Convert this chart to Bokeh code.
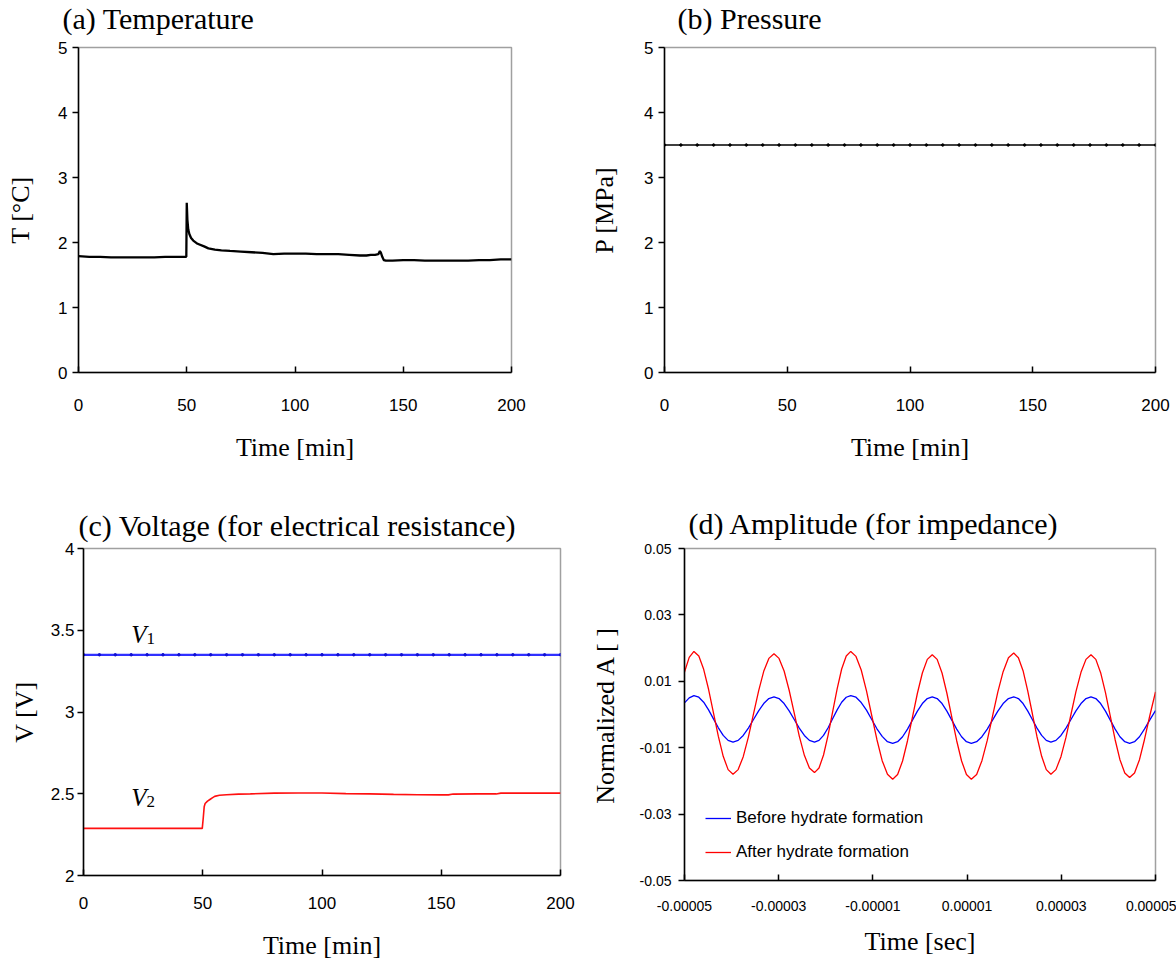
from bokeh.plotting import figure
from bokeh.models import Range1d, FixedTicker, PrintfTickFormatter, CustomJSTickFormatter, Label, Legend, LegendItem
from bokeh.layouts import row, column
from bokeh.embed import file_html
from bokeh.resources import INLINE

# ---------------- data ----------------
# (a) temperature [degC] vs time [min]
temp_time = [0, 5, 10, 15, 20, 25, 30, 35, 40, 45, 49.8, 50.0, 50.3, 50.7, 51.2, 52, 53, 55, 58, 60, 63, 66,
             70, 75, 80, 85, 90, 95, 100, 105, 110, 115, 120, 125, 130, 133, 135, 137, 138.5, 139.2, 139.7,
             140.3, 141, 142, 145, 150, 155, 160, 165, 170, 175, 180, 185, 190, 195, 200]
temp_val = [1.79, 1.78, 1.78, 1.77, 1.77, 1.77, 1.77, 1.77, 1.78, 1.78, 1.78, 2.61, 2.35, 2.2, 2.13, 2.07, 2.03,
            1.98, 1.94, 1.91, 1.89, 1.88, 1.87, 1.86, 1.85, 1.84, 1.82, 1.83, 1.83, 1.83, 1.82, 1.82, 1.82,
            1.81, 1.80, 1.80, 1.81, 1.81, 1.82, 1.87, 1.84, 1.78, 1.73, 1.72, 1.72, 1.73, 1.73, 1.72, 1.72,
            1.72, 1.72, 1.72, 1.73, 1.73, 1.74, 1.74]

# sampling instants of the logged points (min)
sample_time = [0, 6.67, 13.33, 20, 26.67, 33.33, 40, 46.67, 53.33, 60, 66.67, 73.33, 80, 86.67, 93.33, 100,
               106.67, 113.33, 120, 126.67, 133.33, 140, 146.67, 153.33, 160, 166.67, 173.33, 180, 186.67,
               193.33, 200]
# (b) pressure [MPa]
pressure_val = [3.5] * len(sample_time)

# (c) voltages [V]
v1_val = [3.35] * len(sample_time)
v2_time = [0, 10, 20, 30, 40, 49.8, 50.2, 50.6, 51, 52, 53, 54, 55, 57, 60, 65, 70, 80, 90, 100, 110, 120,
           130, 140, 150, 153, 155, 165, 173, 175, 185, 200]
v2_val = [2.288, 2.288, 2.288, 2.288, 2.288, 2.288, 2.35, 2.42, 2.44, 2.455, 2.465, 2.475, 2.484, 2.491,
          2.494, 2.498, 2.499, 2.504, 2.505, 2.505, 2.501, 2.499, 2.496, 2.494, 2.493, 2.493, 2.498, 2.499,
          2.499, 2.504, 2.504, 2.504]

# (d) normalized amplitude vs time [microsecond]
amp_time_us = [
    -50, -49, -48.0,
    -46.96, -45.93, -44.89, -43.85, -42.81, -41.78, -40.74, -39.7,
    -38.61, -37.53, -36.44, -35.35, -34.26, -33.18, -32.09, -31.0,
    -29.93, -28.85, -27.78, -26.70, -25.63, -24.55, -23.48, -22.4,
    -21.44, -20.48, -19.51, -18.55, -17.59, -16.63, -15.66, -14.7,
    -13.59, -12.48, -11.36, -10.25, -9.14, -8.03, -6.91, -5.8,
    -4.75, -3.70, -2.65, -1.60, -0.55, 0.50, 1.55, 2.6,
    3.64, 4.68, 5.71, 6.75, 7.79, 8.83, 9.86, 10.9,
    12.03, 13.15, 14.28, 15.40, 16.53, 17.65, 18.78, 19.9,
    20.89, 21.88, 22.86, 23.85, 24.84, 25.83, 26.81, 27.8,
    28.86, 29.93, 30.99, 32.05, 33.11, 34.18, 35.24, 36.3,
    37.33, 38.35, 39.38, 40.40, 41.43, 42.45, 43.48, 44.5,
    45.55, 46.6, 47.65, 48.8, 50]
before_val = [
    0.0035, 0.0050, 0.0057,
    0.0052, 0.0037, 0.0014, -0.0013, -0.0040, -0.0063, -0.0078, -0.0083,
    -0.0078, -0.0063, -0.0041, -0.0015, 0.0011, 0.0033, 0.0048, 0.0053,
    0.0048, 0.0033, 0.0011, -0.0015, -0.0041, -0.0063, -0.0078, -0.0083,
    -0.0078, -0.0063, -0.0040, -0.0013, 0.0014, 0.0037, 0.0052, 0.0057,
    0.0052, 0.0036, 0.0013, -0.0015, -0.0043, -0.0066, -0.0082, -0.0087,
    -0.0082, -0.0067, -0.0044, -0.0017, 0.0010, 0.0033, 0.0048, 0.0053,
    0.0048, 0.0033, 0.0010, -0.0017, -0.0044, -0.0067, -0.0082, -0.0087,
    -0.0082, -0.0067, -0.0044, -0.0017, 0.0010, 0.0033, 0.0048, 0.0053,
    0.0048, 0.0033, 0.0011, -0.0015, -0.0041, -0.0063, -0.0078, -0.0083,
    -0.0078, -0.0063, -0.0041, -0.0015, 0.0011, 0.0033, 0.0048, 0.0053,
    0.0048, 0.0033, 0.0010, -0.0017, -0.0044, -0.0067, -0.0082, -0.0087,
    -0.0082, -0.0067, -0.0044, -0.0016, 0.0012]
after_val = [
    0.0128, 0.0172, 0.0190,
    0.0176, 0.0136, 0.0076, 0.0005, -0.0066, -0.0126, -0.0166, -0.0180,
    -0.0166, -0.0127, -0.0068, 0.0002, 0.0071, 0.0130, 0.0169, 0.0183,
    0.0169, 0.0131, 0.0073, 0.0004, -0.0065, -0.0123, -0.0161, -0.0175,
    -0.0161, -0.0122, -0.0062, 0.0008, 0.0077, 0.0137, 0.0176, 0.0190,
    0.0175, 0.0134, 0.0071, -0.0003, -0.0076, -0.0139, -0.0180, -0.0195,
    -0.0181, -0.0140, -0.0079, -0.0008, 0.0064, 0.0125, 0.0166, 0.0180,
    0.0166, 0.0125, 0.0064, -0.0008, -0.0079, -0.0140, -0.0181, -0.0195,
    -0.0181, -0.0139, -0.0078, -0.0005, 0.0068, 0.0129, 0.0171, 0.0185,
    0.0171, 0.0132, 0.0072, 0.0003, -0.0067, -0.0126, -0.0166, -0.0180,
    -0.0166, -0.0127, -0.0069, 0.0000, 0.0069, 0.0127, 0.0166, 0.0180,
    0.0166, 0.0126, 0.0066, -0.0005, -0.0076, -0.0136, -0.0176, -0.0190,
    -0.0176, -0.0136, -0.0076, -0.0003, 0.0068]
amp_time_s = [t * 1e-6 for t in amp_time_us]

min_ticks = [0, 50, 100, 150, 200]

SERIF = "Liberation Serif"
SANS = "Liberation Sans"


def make_fig(w, h, bl, br, bt, bb, xr, yr, title, x_off, standoff, xlabel, ylabel, tick_px="17px"):
    p = figure(width=w, height=h, x_range=Range1d(*xr), y_range=Range1d(*yr),
               output_backend="svg", toolbar_location=None,
               min_border_left=bl, min_border_right=br, min_border_top=bt, min_border_bottom=bb)
    try:
        p.frame_align = False
    except Exception:
        pass
    p.grid.visible = False
    p.outline_line_color = "#a0a0a0"
    p.outline_line_width = 1.5
    if title:
        p.title.text = title
        p.title.text_font = SERIF
        p.title.text_font_size = "30px"
        p.title.text_font_style = "normal"
        p.title.text_color = "black"
        p.title.align = "left"
        p.title.offset = x_off
        p.title.standoff = standoff
    for ax in (p.xaxis[0], p.yaxis[0]):
        ax.axis_line_color = "black"
        ax.axis_line_width = 1.5
        ax.major_tick_line_color = "black"
        ax.major_tick_line_width = 1.5
        ax.minor_tick_line_color = None
        ax.major_label_text_font = SANS
        ax.major_label_text_font_size = tick_px
        ax.major_label_text_color = "black"
        ax.axis_label_text_font = SERIF
        ax.axis_label_text_font_size = "26px"
        ax.axis_label_text_font_style = "normal"
        ax.axis_label_text_color = "black"
    p.xaxis.axis_label = xlabel
    p.yaxis.axis_label = ylabel
    p.xaxis.major_tick_in = 6
    p.xaxis.major_tick_out = 0
    p.yaxis.major_tick_in = 0
    p.yaxis.major_tick_out = 6
    return p


# heading strip for the upper panels (pixel coordinates: x to the right, y up)
TOP_H = 40
ph = figure(width=1176, height=TOP_H, x_range=Range1d(0, 1176), y_range=Range1d(0, TOP_H),
            output_backend="svg", toolbar_location=None,
            min_border_left=0, min_border_right=0, min_border_top=0, min_border_bottom=0,
            x_axis_location=None, y_axis_location=None)
try:
    ph.frame_align = False
except Exception:
    pass
ph.grid.visible = False
ph.outline_line_color = None
for txt, xx in (("(a) Temperature", 62), ("(b) Pressure", 677)):
    ph.add_layout(Label(x=xx, y=22, text=txt, text_font=SERIF, text_font_size="30px",
                        text_color="black", text_baseline="alphabetic", text_align="left"))

# (a)
pa = make_fig(586, 476 - TOP_H, 78, 75, 47 - TOP_H, 104, (0, 200), (0, 5), None, 0, 0, "Time [min]", "T [°C]")
pa.xaxis.ticker = FixedTicker(ticks=min_ticks)
pa.yaxis.ticker = FixedTicker(ticks=[0, 1, 2, 3, 4, 5])
pa.xaxis.major_label_standoff = 26
pa.xaxis.axis_label_standoff = 19
pa.yaxis.major_label_standoff = 5
pa.yaxis.axis_label_standoff = 20
pa.line(temp_time, temp_val, line_color="black", line_width=2.3)

# (b)
pb = make_fig(590, 476 - TOP_H, 78, 21, 47 - TOP_H, 104, (0, 200), (0, 5), None, 0, 0, "Time [min]", "P [MPa]")
pb.xaxis.ticker = FixedTicker(ticks=min_ticks)
pb.yaxis.ticker = FixedTicker(ticks=[0, 1, 2, 3, 4, 5])
pb.xaxis.major_label_standoff = 26
pb.xaxis.axis_label_standoff = 19
pb.yaxis.major_label_standoff = 5
pb.yaxis.axis_label_standoff = 22
pb.line(sample_time, pressure_val, line_color="black", line_width=1.6)
pb.scatter(sample_time, pressure_val, size=2.5, color="black")

# (c)
pc = make_fig(586, 490, 83, 26, 72, 91, (0, 200), (2, 4), "(c) Voltage (for electrical resistance)", -5, 14,
              "Time [min]", "V [V]")
pc.xaxis.ticker = FixedTicker(ticks=min_ticks)
pc.yaxis.ticker = FixedTicker(ticks=[2, 2.5, 3, 3.5, 4])
pc.yaxis.formatter = CustomJSTickFormatter(code="return tick.toString();")
pc.xaxis.major_label_standoff = 21
pc.xaxis.axis_label_standoff = 19
pc.yaxis.major_label_standoff = 3
pc.yaxis.axis_label_standoff = 9
pc.line(sample_time, v1_val, line_color="#3030ff", line_width=2.2)
pc.scatter(sample_time, v1_val, size=2.5, color="#1010d0")
pc.line(v2_time, v2_val, line_color="#ff1010", line_width=1.6)
for txt, xx, yy, fs in (("V", 20, 3.475, "25px"), ("1", 26.4, 3.45, "17px"),
                        ("V", 20, 2.475, "25px"), ("2", 26.4, 2.455, "17px")):
    pc.add_layout(Label(x=xx, y=yy, text=txt, text_font=SERIF, text_font_size=fs,
                        text_font_style="italic" if txt == "V" else "normal",
                        text_color="black", text_baseline="alphabetic"))

# (d)
pd_ = make_fig(590, 490, 98, 21, 72, 86, (-5e-5, 5e-5), (-0.05, 0.05), "(d) Amplitude (for impedance)", 4, 18,
               "Time [sec]", "Normalized A [ ]", tick_px="14px")
pd_.xaxis.ticker = FixedTicker(ticks=[-5e-5, -3e-5, -1e-5, 1e-5, 3e-5, 5e-5])
pd_.yaxis.ticker = FixedTicker(ticks=[-0.05, -0.03, -0.01, 0.01, 0.03, 0.05])
pd_.xaxis.formatter = PrintfTickFormatter(format="%.5f")
pd_.yaxis.formatter = PrintfTickFormatter(format="%.2f")
pd_.xaxis.major_label_standoff = 20
pd_.xaxis.axis_label_standoff = 13
pd_.yaxis.major_label_standoff = 7
pd_.yaxis.axis_label_standoff = 17
r_before = pd_.line(amp_time_s, before_val, line_color="#0000ff", line_width=1.3)
r_after = pd_.line(amp_time_s, after_val, line_color="#ff0000", line_width=1.3)
leg = Legend(items=[LegendItem(label="Before hydrate formation", renderers=[r_before]),
                    LegendItem(label="After hydrate formation", renderers=[r_after])],
             location=(21, 18), padding=0, margin=0, spacing=14, label_height=20, glyph_height=20,
             glyph_width=26, label_standoff=5, border_line_color=None, background_fill_alpha=0,
             label_text_font=SANS, label_text_font_size="17px", label_text_color="black")
pd_.add_layout(leg, "center")

layout = column(ph, row(column(pa, pc), column(pb, pd_)))
open("out.html", "w").write(file_html(layout, INLINE))
